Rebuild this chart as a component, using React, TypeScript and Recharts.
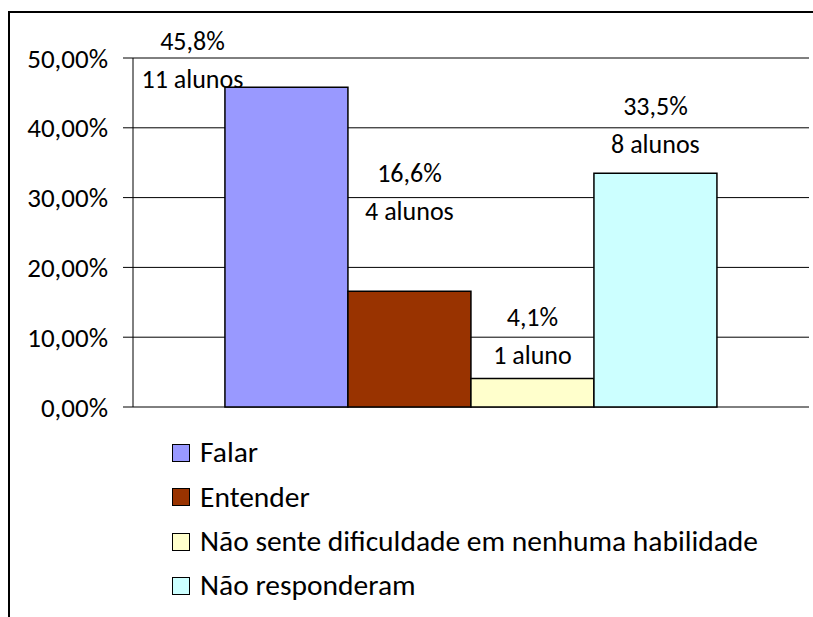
import React from 'react';
import { BarChart, Bar, XAxis, YAxis, CartesianGrid, Legend, LabelList } from 'recharts';

const seriesNames = ['Falar', 'Entender', 'Não sente dificuldade em nenhuma habilidade', 'Não responderam'];
const seriesKeys = ['falar', 'entender', 'naoSente', 'naoResp'];
const percentValues = [45.8, 16.6, 4.1, 33.5];
const studentCounts = ['11 alunos', '4 alunos', '1 aluno', '8 alunos'];
const yTicks = [0, 10, 20, 30, 40, 50];

const colors = ['#9999FF', '#993300', '#FFFFCC', '#CCFFFF'];
// label placement relative to each bar's top/centre (the original labels were moved by hand)
const labelShift = [
  { dx: -94, dy1: -46, dy2: -8 },
  { dx: 0, dy1: -118, dy2: -80 },
  { dx: 0, dy1: -61, dy2: -23 },
  { dx: 0, dy1: -67, dy2: -29 },
];

const FONT = 'Carlito, Calibri, Lato, sans-serif';

const row: Record<string, any> = { name: '' };
seriesKeys.forEach((k, i) => {
  row[k] = percentValues[i];
});
const chartData = [row];

const fmtPct = (v: number) => v.toFixed(1).replace('.', ',') + '%';

function makeLabel(i: number) {
  return (props: any) => {
    const { x, y, width } = props;
    const s = labelShift[i];
    const cx = Number(x) + Number(width) / 2 + s.dx;
    return (
      <g>
        <text x={cx} y={Number(y) + s.dy1} textAnchor="middle" dominantBaseline="central"
          fontFamily={FONT} fontSize={26} fill="#000">
          {fmtPct(percentValues[i])}
        </text>
        <text x={cx} y={Number(y) + s.dy2} textAnchor="middle" dominantBaseline="central"
          fontFamily={FONT} fontSize={26} fill="#000">
          {studentCounts[i]}
        </text>
      </g>
    );
  };
}

function LegendBox() {
  return (
    <div style={{ fontFamily: FONT, fontSize: 29.5, color: '#000', lineHeight: 1 }}>
      {seriesNames.map((n, i) => (
        <div key={n} style={{ display: 'flex', alignItems: 'center', height: 44.3 }}>
          <span style={{
            display: 'inline-block', width: 16, height: 16, background: colors[i],
            border: '1.5px solid #000', marginRight: 10, boxSizing: 'content-box',
          }} />
          <span>{n}</span>
        </div>
      ))}
    </div>
  );
}

export default function App() {
  return (
    <div style={{ position: 'absolute', left: 0, top: 0, width: 813, height: 617, background: '#fff', overflow: 'hidden' }}>
      <div style={{
        position: 'absolute', left: 8, top: 11, width: 810, height: 610,
        borderTop: '2px solid #000', borderLeft: '2px solid #000',
      }} />
      <BarChart
        width={813}
        height={617}
        data={chartData}
        margin={{ top: 58, right: 4, bottom: 210, left: 9 }}
        barCategoryGap="13.6%"
        barGap={0}
      >
        <CartesianGrid horizontal vertical={false} stroke="#000" strokeWidth={1} />
        <XAxis dataKey="name" hide />
        <YAxis
          width={124}
          domain={[0, 50]}
          ticks={yTicks}
          tickFormatter={(v: number) => v.toFixed(2).replace('.', ',') + '%'}
          tick={{ fontFamily: FONT, fontSize: 27, fill: '#000' }}
          tickLine={{ stroke: '#000' }}
          tickSize={10}
          tickMargin={15}
          axisLine={{ stroke: '#000' }}
          interval={0}
        />
        <Legend
          content={<LegendBox />}
          layout="vertical"
          verticalAlign="middle"
          align="center"
          wrapperStyle={{ position: 'absolute', left: 172, top: 431, width: 640 }}
        />
        {seriesKeys.map((k, i) => (
          <Bar key={k} dataKey={k} name={seriesNames[i]} fill={colors[i]} stroke="#000" strokeWidth={1.5}
            isAnimationActive={false}>
            <LabelList dataKey={k} content={makeLabel(i)} />
          </Bar>
        ))}
      </BarChart>
    </div>
  );
}
